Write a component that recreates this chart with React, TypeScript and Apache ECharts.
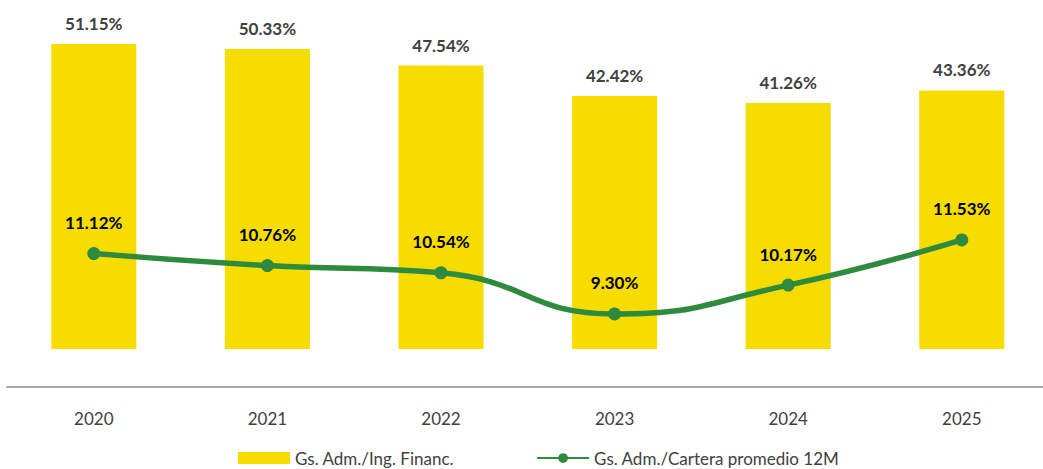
import React, { useEffect, useRef } from "react";
import * as echarts from "echarts";

const categories = ["2020", "2021", "2022", "2023", "2024", "2025"];
const ratioIngresos = [51.15, 50.33, 47.54, 42.42, 41.26, 43.36];
const ratioCartera = [11.12, 10.76, 10.54, 9.3, 10.17, 11.53];
const barName = "Gs. Adm./Ing. Financ.";
const lineName = "Gs. Adm./Cartera promedio 12M";

const FONT = "Lato, 'Open Sans', sans-serif";

export default function App() {
  const ref = useRef<HTMLDivElement>(null);
  useEffect(() => {
    if (!ref.current) return;
    const chart = echarts.init(ref.current, undefined, { renderer: "svg" });
    chart.setOption({
      animation: false,
      textStyle: { fontFamily: FONT },
      grid: { left: 7, top: 10, width: 1041.6, bottom: 82, containLabel: false },
      legend: {
        left: 233,
        top: 442,
        itemWidth: 52,
        itemHeight: 12,
        itemGap: 82,
        textStyle: { fontSize: 17, color: "#404040", fontFamily: FONT, lineHeight: 22 },
        data: [
          { name: barName, icon: "rect" },
          { name: lineName },
        ],
      },
      xAxis: {
        type: "category",
        data: categories,
        axisLine: { show: true, onZero: false, lineStyle: { color: "#a6a6a6", width: 2 } },
        axisTick: { show: false },
        axisLabel: { color: "#404040", fontSize: 17, margin: 23, fontFamily: FONT },
      },
      yAxis: [
        { type: "value", min: -6.37, max: 56.85, show: false, splitLine: { show: false } },
        { type: "value", min: 7.1, max: 18.46, show: false, splitLine: { show: false } },
      ],
      series: [
        {
          name: barName,
          type: "bar",
          yAxisIndex: 0,
          data: ratioIngresos,
          barWidth: "49%",
          itemStyle: { color: "#F7DC00" },
          label: {
            show: true,
            position: "top",
            distance: 12,
            color: "#404040",
            fontWeight: "bold",
            fontSize: 17,
            fontFamily: FONT,
            formatter: (p: any) => p.value.toFixed(2) + "%",
          },
        },
        {
          name: lineName,
          type: "line",
          yAxisIndex: 1,
          data: ratioCartera,
          smooth: true,
          symbol: "circle",
          symbolSize: 13,
          lineStyle: { color: "#2E8B3E", width: 5.5 },
          itemStyle: { color: "#2E8B3E" },
          label: {
            show: true,
            position: "top",
            distance: 16,
            color: "#000000",
            fontWeight: "bold",
            fontSize: 17,
            fontFamily: FONT,
            formatter: (p: any) => p.value.toFixed(2) + "%",
          },
        },
      ],
    });
    return () => chart.dispose();
  }, []);
  return (
    <div style={{ position: "fixed", left: 0, top: 0, width: 1043, height: 469, overflow: "hidden", background: "#fff" }}>
      <div ref={ref} style={{ position: "absolute", left: 0, top: 0, width: 1050, height: 469 }} />
    </div>
  );
}
